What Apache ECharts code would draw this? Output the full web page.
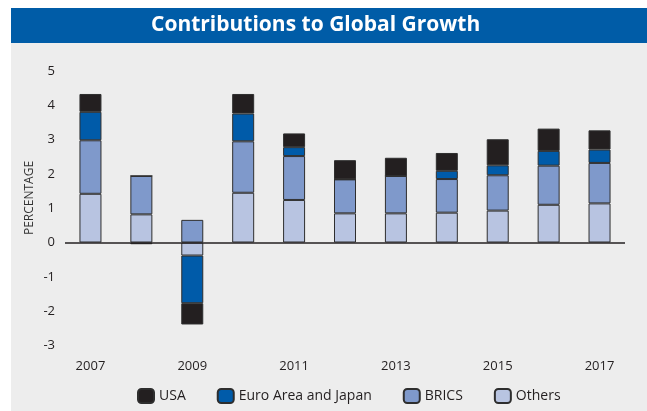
<!DOCTYPE html>
<html>
<head>
<meta charset="utf-8">
<script src="https://cdn.jsdelivr.net/npm/echarts@6/dist/echarts.min.js"></script>
<style>
html, body { margin: 0; padding: 0; background: #fff; }
#main { width: 647px; height: 411px; }
</style>
</head>
<body>
<div id="main"></div>
<script>
var years = ['2007', '2008', '2009', '2010', '2011', '2012', '2013', '2014', '2015', '2016', '2017'];
// stacked from the bottom: Others, BRICS, Euro Area and Japan, USA
var others = [1.42, 0.82, -0.38, 1.45, 1.24, 0.85, 0.85, 0.87, 0.93, 1.10, 1.14];
var brics = [1.56, 1.12, 0.66, 1.50, 1.28, 0.99, 1.09, 0.98, 1.03, 1.14, 1.18];
var euro = [0.83, 0, -1.39, 0.81, 0.26, 0, 0, 0.24, 0.29, 0.43, 0.39];
var usa = [0.52, -0.05, -0.62, 0.57, 0.40, 0.56, 0.53, 0.52, 0.76, 0.65, 0.56];
var yMin = -3, yMax = 5, yStep = 1;
var legendNames = ['USA', 'Euro Area and Japan', 'BRICS', 'Others'];

var font = "'Open Sans', sans-serif";

function barSeries(name, data, color) {
    return {
        name: name,
        type: 'bar',
        stack: 'total',
        barWidth: 22,
        data: data,
        itemStyle: {
            color: color,
            borderColor: '#2e2e2e',
            borderWidth: 1
        },
        emphasis: { disabled: true }
    };
}

var chart = echarts.init(document.getElementById('main'));
var series = [
    barSeries('Others', others, '#b8c4e1'),
    barSeries('BRICS', brics, '#7f99cb'),
    barSeries('Euro Area and Japan', euro, '#005ba9'),
    barSeries('USA', usa, '#231f20')
];
// zero line across the plot
series[0].markLine = {
    silent: true,
    symbol: 'none',
    label: { show: false },
    lineStyle: { color: '#231f20', width: 1.5, type: 'solid' },
    data: [{ yAxis: 0 }],
    z: 10
};

chart.setOption({
    backgroundColor: '#fff',
    animation: false,
    textStyle: { fontFamily: font },
    graphic: [
        { type: 'rect', z: -10, silent: true, shape: { x: 11, y: 43, width: 636, height: 368 }, style: { fill: '#ededed' } },
        { type: 'rect', z: -10, silent: true, shape: { x: 11, y: 8, width: 636, height: 35 }, style: { fill: '#005ca7' } },
        {
            type: 'text', silent: true,
            x: 30, y: 198, rotation: Math.PI / 2,
            style: { text: 'PERCENTAGE', fill: '#333', font: "12px 'Open Sans', sans-serif", align: 'center', verticalAlign: 'middle' }
        }
    ],
    title: {
        text: 'Contributions to Global Growth',
        left: 146,
        top: 10,
        textStyle: { color: '#fff', fontSize: 21, fontWeight: 'bold', fontFamily: font }
    },
    legend: {
        data: legendNames,
        left: 137,
        top: 388,
        padding: 0,
        itemWidth: 16,
        itemHeight: 14,
        itemGap: 31,
        textStyle: { color: '#231f20', fontSize: 14, fontFamily: font }
    },
    grid: { left: 65, right: 22, top: 71, height: 274.4 },
    xAxis: {
        type: 'category',
        data: years,
        axisLine: { show: false },
        axisTick: { show: false },
        axisLabel: { interval: 1, color: '#231f20', fontSize: 13, margin: 14, fontFamily: font }
    },
    yAxis: {
        type: 'value',
        min: yMin,
        max: yMax,
        interval: yStep,
        axisLine: { show: false },
        axisTick: { show: false },
        splitLine: { show: false },
        axisLabel: { color: '#231f20', fontSize: 13, margin: 10, fontFamily: font }
    },
    series: series
});
</script>
</body>
</html>
